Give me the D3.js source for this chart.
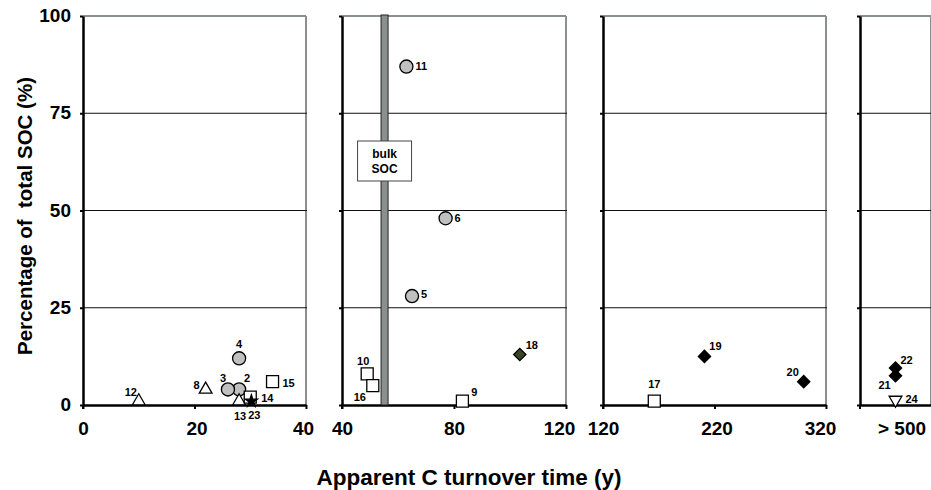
<!DOCTYPE html>
<html>
<head>
<meta charset="utf-8">
<script src="https://cdn.jsdelivr.net/npm/d3@7"></script>
<style>
  html, body { margin: 0; padding: 0; background: #fff; }
  svg { display: block; font-family: "Liberation Sans", Arial, Helvetica, sans-serif; }
</style>
</head>
<body>
<svg id="chart" width="931" height="490"></svg>
<script>
// ---------------- data ----------------
const pointIds   = ["2", "3", "4", "8", "12", "13", "14", "15", "23",
                    "5", "6", "9", "10", "11", "16", "18",
                    "17", "19", "20",
                    "21", "22", "24"];
const panelIndex = [0, 0, 0, 0, 0, 0, 0, 0, 0,
                    1, 1, 1, 1, 1, 1, 1,
                    2, 2, 2,
                    3, 3, 3];
// apparent C turnover time (y); ">500" points placed at the middle of the last panel
const turnover   = [28, 26, 28, 22, 10, 28, 30, 34, 30.2,
                    65, 77, 83, 49, 63, 51, 103.5,
                    166, 211, 300,
                    600, 600, 600];
// percentage of total SOC
const socPercent = [4, 4, 12, 4, 1, 1, 2, 6, 1,
                    28, 48, 1, 8, 87, 5, 13,
                    1, 12.5, 6,
                    7.5, 9.5, 1.3];
const markerType = ["circle", "circle", "circle", "triangle", "triangle", "triangle", "square", "square", "star",
                    "circle", "circle", "square", "square", "circle", "square", "diamondOlive",
                    "square", "diamond", "diamond",
                    "diamond", "diamond", "triangleDown"];

const panelDomains = [[0, 40], [40, 120], [120, 320], [500, 700]];
const panelTicks   = [[0, 20, 40], [40, 80, 120], [120, 220, 320], [600]];
const panelTickLabels = [["0", "20", "40"], ["40", "80", "120"], ["120", "220", "320"], ["> 500"]];
const yTicks = [0, 25, 50, 75, 100];
const bulkSOCTurnover = 55.2;
const yTitle = "Percentage of  total SOC (%)";
const xTitle = "Apparent C turnover time (y)";

// ---------------- layout ----------------
const panelRanges = [[83, 306], [342, 566], [603, 826], [860, 931]];
const yRange = [405, 16];
// horizontal nudges of tick labels (px)
const tickLabelShift = [[0, 2, -3], [0, 0, -7], [0, 2, -6], [6]];

// label offsets (text centre relative to marker centre, px)
const labelOffsets = {
  "12": [-8, -9], "8": [-9, -4], "3": [-5, -11], "2": [8, -11], "4": [0, -14],
  "13": [1, 15], "23": [3, 14], "14": [17, 1], "15": [16, 1],
  "11": [15, -1], "6": [12, 0], "5": [12, -2], "10": [-4, -13], "16": [-13, 11],
  "9": [12, -9], "18": [12, -9],
  "17": [0, -17], "19": [11, -10], "20": [-11, -10],
  "22": [11, -8], "21": [-11, 9], "24": [16, -1]
};

const svg = d3.select("#chart");
const y = d3.scaleLinear().domain([0, 100]).range(yRange);
const xScales = panelDomains.map((d, i) => d3.scaleLinear().domain(d).range(panelRanges[i]));

const gray = "#8a8f8f";
const fontFam = "'Liberation Sans', Arial, sans-serif";

panelRanges.forEach((r, i) => {
  const g = svg.append("g");
  // top & right border (gray)
  g.append("line").attr("x1", r[0]).attr("x2", r[1]).attr("y1", y(100)).attr("y2", y(100))
    .attr("stroke", gray).attr("stroke-width", 2);
  g.append("line").attr("x1", r[1]).attr("x2", r[1]).attr("y1", y(100)).attr("y2", y(0))
    .attr("stroke", gray).attr("stroke-width", 2);
  // gridlines
  [25, 50, 75].forEach(v => {
    g.append("line").attr("x1", r[0]).attr("x2", r[1] + 1).attr("y1", y(v)).attr("y2", y(v))
      .attr("stroke", "#111").attr("stroke-width", 1);
  });
  // left axis
  const yAxis = d3.axisLeft(y).tickValues(yTicks).tickSizeInner(3).tickSizeOuter(0)
    .tickFormat(i === 0 ? d3.format("d") : () => "");
  const ya = g.append("g").attr("transform", `translate(${r[0]},0)`).call(yAxis);
  ya.select(".domain").attr("stroke", "#000").attr("stroke-width", 2.5);
  ya.selectAll(".tick line").attr("stroke", "#000").attr("stroke-width", 2);
  ya.selectAll(".tick text").attr("font-size", 19).attr("font-weight", "bold")
    .attr("font-family", fontFam).attr("fill", "#000").attr("x", -12).attr("dy", "0.3em");
  // bottom axis
  const xAxis = d3.axisBottom(xScales[i]).tickValues(panelTicks[i])
    .tickSizeInner(i === 3 ? 0 : 4).tickSizeOuter(0)
    .tickFormat((d, k) => panelTickLabels[i][k]);
  const xa = g.append("g").attr("transform", `translate(0,${y(0)})`).call(xAxis);
  xa.select(".domain").attr("stroke", "#000").attr("stroke-width", 2.5);
  xa.selectAll(".tick line").attr("stroke", "#000").attr("stroke-width", 2);
  xa.selectAll(".tick text").attr("font-size", 19).attr("font-weight", "bold")
    .attr("font-family", fontFam).attr("fill", "#000")
    .attr("y", 17).attr("dx", (d, k) => tickLabelShift[i][k]);
  // small tick at left end of x axis
  g.append("line").attr("x1", r[0]).attr("x2", r[0]).attr("y1", y(0)).attr("y2", y(0) + 4)
    .attr("stroke", "#000").attr("stroke-width", 2);
});

// bulk SOC band in panel 2
const xb = xScales[1](bulkSOCTurnover);
svg.append("rect").attr("x", xb - 3.5).attr("y", y(100) - 1).attr("width", 7).attr("height", y(0) - y(100) + 1)
  .attr("fill", gray).attr("stroke", "#222").attr("stroke-width", 1);
svg.append("rect").attr("x", xb - 27).attr("y", 141).attr("width", 54).attr("height", 40)
  .attr("fill", "#fff").attr("stroke", "#444").attr("stroke-width", 1);
svg.append("text").attr("x", xb).attr("y", 158).attr("text-anchor", "middle")
  .attr("font-size", 12).attr("font-weight", "bold").text("bulk");
svg.append("text").attr("x", xb).attr("y", 173).attr("text-anchor", "middle")
  .attr("font-size", 12).attr("font-weight", "bold").text("SOC");

// markers
const symbolFor = {
  circle:       { type: d3.symbolCircle,   size: 135, fill: "#c0c0c0", rot: 0 },
  square:       { type: d3.symbolSquare,   size: 144, fill: "#fff",    rot: 0 },
  triangle:     { type: d3.symbolTriangle, size: 70,  fill: "#fff",    rot: 0 },
  triangleDown: { type: d3.symbolTriangle, size: 70,  fill: "#fff",    rot: 180 },
  star:         { type: d3.symbolStar,     size: 45,  fill: "#000",    rot: 0 },
  diamond:      { type: d3.symbolSquare,   size: 75,  fill: "#000",    rot: 45 },
  diamondOlive: { type: d3.symbolSquare,   size: 75,  fill: "#3a4526", rot: 45 }
};
const pts = pointIds.map((id, k) => ({
  id, px: xScales[panelIndex[k]](turnover[k]), py: y(socPercent[k]), m: markerType[k]
}));
const drawOrder = pts.slice().sort((a, b) => (a.m === "star") - (b.m === "star"));
svg.append("g").selectAll("path").data(drawOrder).join("path")
  .attr("d", d => d3.symbol().type(symbolFor[d.m].type).size(symbolFor[d.m].size)())
  .attr("transform", d => `translate(${d.px},${d.py}) rotate(${symbolFor[d.m].rot})`)
  .attr("fill", d => symbolFor[d.m].fill)
  .attr("stroke", "#000").attr("stroke-width", 1.3);

svg.append("g").selectAll("text").data(pts).join("text")
  .attr("x", d => d.px + labelOffsets[d.id][0])
  .attr("y", d => d.py + labelOffsets[d.id][1])
  .attr("dy", "0.36em").attr("text-anchor", "middle")
  .attr("font-size", 11).attr("font-weight", "bold").attr("fill", "#000")
  .text(d => d.id);

// titles
svg.append("text").attr("transform", `translate(32,216) rotate(-90)`)
  .attr("text-anchor", "middle").attr("font-size", 20.5).attr("font-weight", "bold")
  .attr("xml:space", "preserve").style("white-space", "pre").text(yTitle);
svg.append("text").attr("x", 469).attr("y", 485).attr("text-anchor", "middle")
  .attr("font-size", 22.5).attr("font-weight", "bold").text(xTitle);
</script>
</body>
</html>
